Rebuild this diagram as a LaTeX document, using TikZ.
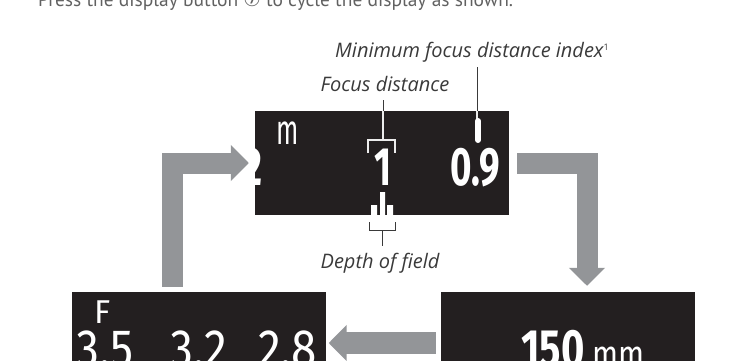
\documentclass[tikz,border=0pt]{standalone}
\usepackage{fontspec}
\setmainfont{PT Sans}
\newfontfamily\lcdfont{Fira Sans}
\newfontfamily\calloutfont{Open Sans}
\newfontfamily\symfont{DejaVu Sans}
\usetikzlibrary{positioning,arrows.meta}

\definecolor{screenblack}{HTML}{231F20}
\definecolor{flowgray}{HTML}{939598}
\definecolor{labelgray}{HTML}{3A3A3A}

\newcommand{\narrow}[2][.68]{\scalebox{#1}[1]{#2}}

\tikzset{
  screen/.style={fill=screenblack, minimum width=254pt, inner sep=0pt},
  flow/.style={draw=flowgray, line width=21pt, -{Triangle[width=35pt,length=18pt]}},
  lcd/.style={text=white, inner sep=0pt, font=\lcdfont\bfseries\fontsize{54}{54}\selectfont},
  lcdmid/.style={text=white, inner sep=0pt, font=\lcdfont\fontsize{54}{54}\selectfont},
  lcdthin/.style={text=white, inner sep=0pt, font=\lcdfont\fontsize{33}{33}\selectfont},
  callout/.style={text=labelgray, inner sep=0pt, font=\calloutfont\itshape\fontsize{20}{22}\selectfont},
  leader/.style={draw=labelgray, line width=.8pt},
  inleader/.style={draw=white!85!gray, line width=1.4pt},
}

\begin{document}
\begin{tikzpicture}[x=1pt, y=-1pt]
\useasboundingbox (0,0) rectangle (734,361);

\node[anchor=base west, inner sep=0pt, text=black!62, font=\fontsize{19.5}{21}\selectfont] (intro) at (38,7)
  {Press the display button {\symfont ⑦} to cycle the display as shown.};

% screens
\node[screen, minimum height=104pt] (dist) at (382,163) {};
\node[screen, minimum height=102pt] (focal) at (568,343) {};
\node[screen, minimum height=102pt] (aper) at (198.5,343) {};

% distance screen
\begin{scope}
  \clip (dist.north west) rectangle (dist.south east);
  \node[lcd, anchor=base east] (prev) at (262.5,185) {\narrow{2}};
\end{scope}
\node[lcdthin, anchor=base west, font=\lcdfont\fontsize{42}{42}\selectfont] (unit) at (276,144) {\narrow[.62]{m}};
\node[lcd, anchor=base] (fd) at (383,185) {\narrow{1}};
\node[lcd, anchor=base west] (mfd) at (450,185) {\narrow{0.9}};

% focal length screen
\node[lcd, anchor=base west] (flen) at (521,367) {\narrow[.74]{150}};
\node[lcdthin, anchor=base west, font=\lcdfont\fontsize{38}{38}\selectfont] (mm) at (592,367) {\narrow[.8]{mm}};

% aperture screen
\node[lcdthin, anchor=base west] (fnum) at (94,323) {F};
\node[lcdmid, anchor=base west] (ap1) at (76,367) {\narrow[.85]{3.5}};
\node[lcdmid, anchor=base west] (ap2) at (170,367) {\narrow[.85]{3.2}};
\node[lcdmid, anchor=base west] (ap3) at (258,367) {\narrow[.85]{2.8}};

% callouts
\node[callout, anchor=base] (fdlabel) at (385,92) {Focus distance};
\node[callout, anchor=base] (mfdlabel) at (472,58) {Minimum focus distance index{\upshape\fontsize{9}{9}\selectfont\raisebox{7pt}{1}}};
\node[callout, anchor=base] (doflabel) at (380,268) {Depth of field};

\coordinate (fdtop) at (dist.north -| fd);
\draw[leader] ([yshift=-8pt]fdlabel.south -| fd) -- (fdtop);
\draw[inleader] (fdtop) -- ++(0,29);
\draw[inleader] (368,153) -- (368,140) -- (395,140) -- (395,153);

\coordinate (mfdtop) at (dist.north -| 477,0);
\draw[leader] ([yshift=-4pt]mfdlabel.south -| mfdtop) -- (mfdtop);
\draw[inleader] (mfdtop) -- ++(0,8);
\draw[white, line width=6pt, line cap=round] (478,121) -- (478,140);

\fill[white] (371,205) rectangle (377,215) (380,192) rectangle (385,215) (387,205) rectangle (393,215);
\draw[leader] (369,222) -- (369,230) -- (395,230) -- (395,222);
\draw[leader] (382,230) -- ([yshift=6pt]doflabel.north -| 382,0);

% cycle arrows
\draw[flow] ([xshift=-26pt,yshift=5pt]aper.north) |- ([xshift=-6pt]dist.west);
\draw[flow] ([xshift=8pt]dist.east) -| ([xshift=19pt,yshift=6pt]focal.north);
\draw[flow, line width=22pt] ([xshift=-5pt]focal.west) -- ([xshift=3pt]aper.east);
\end{tikzpicture}
\end{document}
